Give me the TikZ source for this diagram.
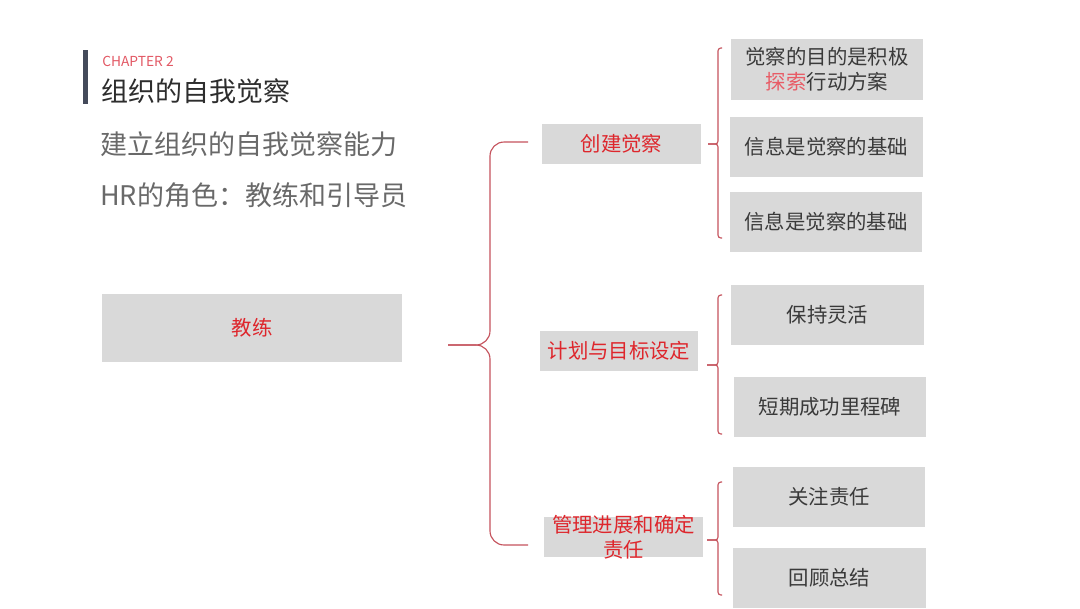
\documentclass[tikz,border=0pt]{standalone}
\usepackage{fontspec}
\setmainfont{Noto Sans CJK SC}
\usepackage{xcolor}
\usepackage{tikz}
\usetikzlibrary{positioning}

\definecolor{boxgray}{RGB}{217,217,217}
\definecolor{boxtext}{RGB}{58,58,58}
\definecolor{hilite}{RGB}{222,38,44}
\definecolor{accent}{RGB}{232,92,102}
\definecolor{bracered}{RGB}{196,82,92}
\definecolor{chapred}{RGB}{226,88,100}
\definecolor{titledark}{RGB}{45,45,45}
\definecolor{subgray}{RGB}{105,105,105}
\definecolor{barslate}{RGB}{68,74,90}

\begin{document}
\begin{tikzpicture}[
  x=0.025cm, y=-0.025cm,
  font=\fontsize{14.5}{17.8}\selectfont,
  leaf/.style={fill=boxgray, inner sep=0pt, align=center, text=boxtext,
               minimum width=4.8cm, minimum height=1.5cm},
  branch/.style={fill=boxgray, inner sep=0pt, align=center, text=hilite,
                 minimum width=3.97cm, minimum height=1cm},
  head/.style={anchor=west, inner sep=0pt},
  brace/.style={draw=bracered, line width=0.8pt}
]
\useasboundingbox (0,0) rectangle (1080,608);

% Chapter heading
\fill[barslate] (83,50) rectangle (88,104);
\node[head, text=chapred, font=\fontsize{9.8}{11}\selectfont] (chap) at (102,61) {CHAPTER 2};
\node[head, text=titledark, font=\fontsize{19.2}{23}\selectfont] (title) at (101,91) {组织的自我觉察};
\node[head, text=subgray, font=\fontsize{19.2}{23}\selectfont] (subA) at (100,144) {建立组织的自我觉察能力};
\node[head, text=subgray, font=\fontsize{19.2}{23}\selectfont] (subB) at (100,195) {HR的角色：教练和引导员};

% Root and branches
\node[fill=boxgray, text=hilite, minimum width=7.5cm, minimum height=1.7cm] (coach) at (252,328) {教练};
\node[branch] (aware) at (621.5,144) {创建觉察};
\node[branch] (plan) at (619,351) {计划与目标设定};
\node[branch, label={[text=hilite, align=center]center:管理进展和确定\\责任}] (manage) at (623.5,537) {};

% Leaves
\node[leaf] (goal) at (827,69.5) {觉察的目的是积极\\{\color{accent}探索}行动方案};
\node[leaf] (infoA) at (826.5,146.5) {信息是觉察的基础};
\node[leaf] (infoB) at (826,222) {信息是觉察的基础};
\node[leaf] (flex) at (827.5,315) {保持灵活};
\node[leaf] (mile) at (830,407) {短期成功里程碑};
\node[leaf] (focus) at (829,497) {关注责任};
\node[leaf] (review) at (829.5,577.5) {回顾总结};

% Brace end points
\coordinate (rootTop) at (528,142);
\coordinate (rootBot) at (528,545);
\coordinate (rootMid) at (490,345);
\coordinate (rootTip) at (448,345);
\coordinate (awTop) at (722,48);
\coordinate (awBot) at (722,238);
\coordinate (awMid) at (718,144);
\coordinate (awTip) at (708,144);
\coordinate (plTop) at (722,295);
\coordinate (plBot) at (722,434);
\coordinate (plMid) at (718,365);
\coordinate (plTip) at (707,365);
\coordinate (mgTop) at (722,482);
\coordinate (mgBot) at (722,595);
\coordinate (mgMid) at (718,540);
\coordinate (mgTip) at (707,540);

% Braces
\draw[brace, rounded corners=10pt] (rootTop) -| (rootMid) -- (rootTip);
\draw[brace, rounded corners=10pt] (rootBot) -| (rootMid) -- (rootTip);
\draw[brace, rounded corners=2pt] (awTop) -| (awMid) -- (awTip);
\draw[brace, rounded corners=2pt] (awBot) -| (awMid) -- (awTip);
\draw[brace, rounded corners=2pt] (plTop) -| (plMid) -- (plTip);
\draw[brace, rounded corners=2pt] (plBot) -| (plMid) -- (plTip);
\draw[brace, rounded corners=2pt] (mgTop) -| (mgMid) -- (mgTip);
\draw[brace, rounded corners=2pt] (mgBot) -| (mgMid) -- (mgTip);

\end{tikzpicture}
\end{document}
